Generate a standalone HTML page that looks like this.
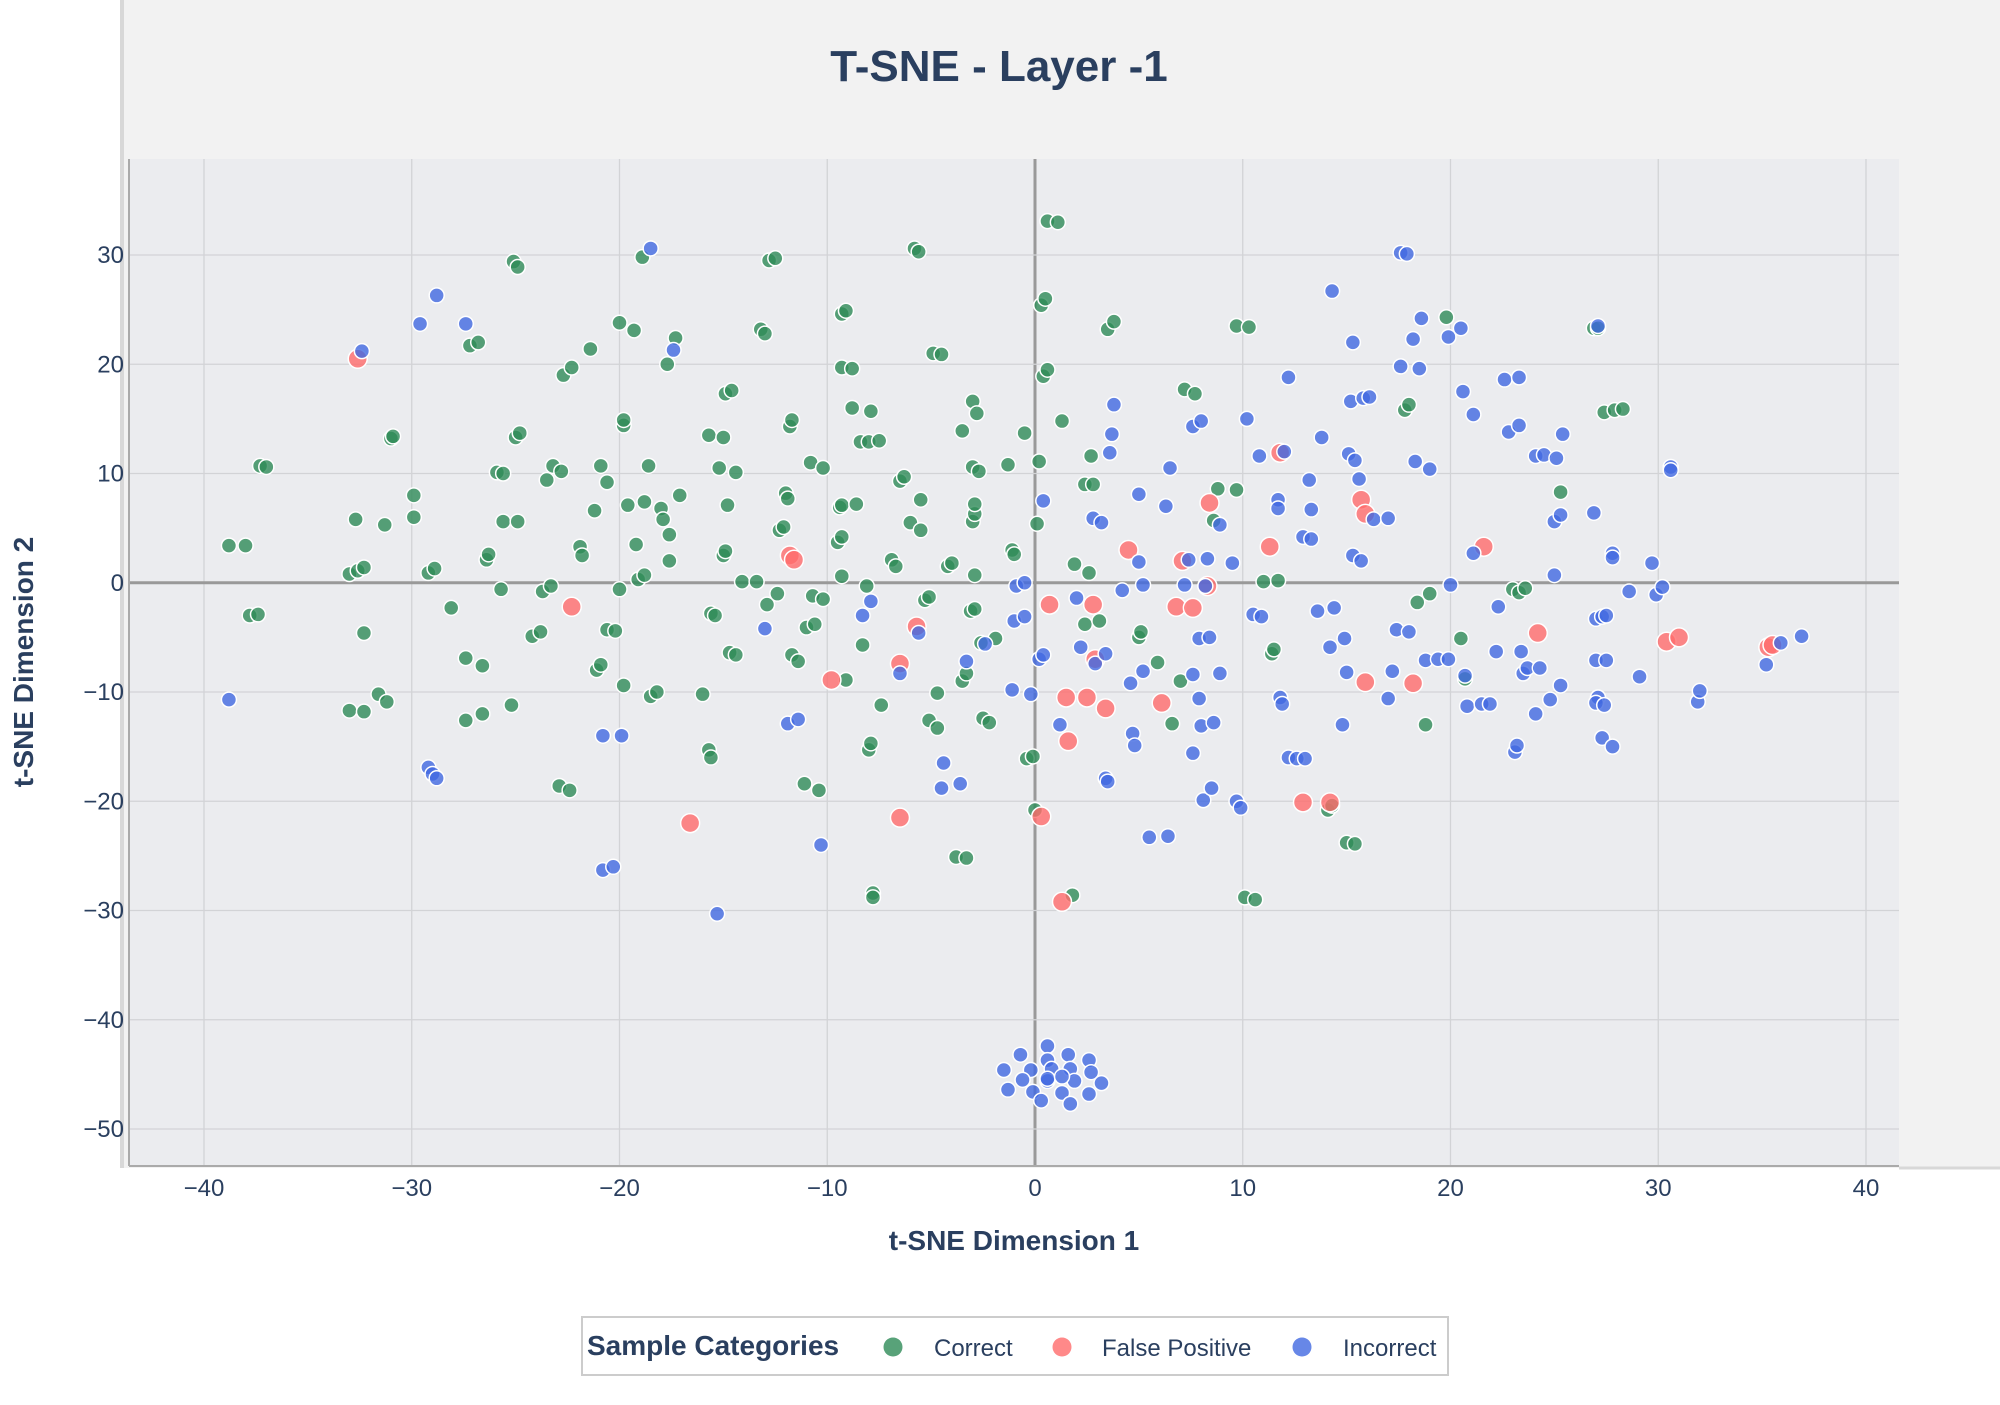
<!DOCTYPE html>
<html><head><meta charset="utf-8"><style>
html,body{margin:0;padding:0;background:#fff;}
svg text{font-family:"Liberation Sans",sans-serif;}
</style></head><body>
<svg id="chart" width="2000" height="1400" xmlns="http://www.w3.org/2000/svg">
<rect x="122" y="0" width="1878" height="1168" fill="#f2f2f2"/>
<line x1="122" y1="0" x2="122" y2="1168" stroke="#d8d8d8" stroke-width="4"/>
<line x1="1899" y1="1168" x2="2000" y2="1168" stroke="#d8d8d8" stroke-width="3"/>
<rect x="129" y="159" width="1770" height="1006" fill="#ebecef"/>
<g id="grid"></g>
<g id="marks"></g>
<g id="ticks"></g>
<line x1="129" y1="159" x2="129" y2="1166" stroke="#aaa" stroke-width="2"/>
<line x1="129" y1="1166" x2="1899" y2="1166" stroke="#aaa" stroke-width="2"/>
<text x="999" y="81" text-anchor="middle" font-size="44" font-weight="bold" fill="#2a3f5f">T-SNE - Layer -1</text>
<text x="1014" y="1250" text-anchor="middle" font-size="28" font-weight="bold" fill="#2a3f5f">t-SNE Dimension 1</text>
<text transform="translate(33,662) rotate(-90)" text-anchor="middle" font-size="28" font-weight="bold" fill="#2a3f5f">t-SNE Dimension 2</text>
<g>
<rect x="582" y="1317" width="866" height="58" fill="#fff" stroke="#ccc" stroke-width="2"/>
<text x="587" y="1355" font-size="28" font-weight="bold" fill="#2a3f5f">Sample Categories</text>
<g><circle cx="893" cy="1347" r="9.5" fill="#58a279"/><text x="934" y="1356" font-size="24" fill="#2a3f5f">Correct</text></g>
<g><circle cx="1062" cy="1347" r="9.5" fill="#ff8989"/><text x="1102" y="1356" font-size="24" fill="#2a3f5f">False Positive</text></g>
<g><circle cx="1302" cy="1347" r="9.5" fill="#6787e7"/><text x="1343" y="1356" font-size="24" fill="#2a3f5f">Incorrect</text></g>
</g>
</svg>
<script>
const xTicks=[-40,-30,-20,-10,0,10,20,30,40];
const yTicks=[30,20,10,0,-10,-20,-30,-40,-50];
const correctPts=[[-38.8,3.4],[-38,3.4],[-37.3,10.7],[-37,10.6],[-37.8,-3],[-37.4,-2.9],[-32.7,5.8],[-33,0.8],[-32.6,1.1],[-32.3,1.4],[-32.3,-4.6],[-33,-11.7],[-32.3,-11.8],[-31.6,-10.2],[-31.2,-10.9],[-31.3,5.3],[-31,13.2],[-30.9,13.4],[-29.9,8],[-29.9,6],[-29.2,0.9],[-28.9,1.3],[-28.1,-2.3],[-27.4,-6.9],[-27.4,-12.6],[-27.2,21.7],[-26.8,22],[-26.6,-7.6],[-26.6,-12],[-26.4,2.1],[-26.3,2.6],[-25.9,10.1],[-25.6,10],[-25.7,-0.6],[-25.6,5.6],[-25.2,-11.2],[-25,13.3],[-24.8,13.7],[-24.9,5.6],[-25.1,29.4],[-24.9,28.9],[-24.2,-4.9],[-23.8,-4.5],[-23.7,-0.8],[-23.3,-0.3],[-23.2,10.7],[-23.5,9.4],[-22.8,10.2],[-22.9,-18.6],[-22.4,-19],[-22.7,19],[-22.3,19.7],[-21.9,3.3],[-21.8,2.5],[-21.4,21.4],[-21.1,-8],[-20.9,-7.5],[-21.2,6.6],[-20.9,10.7],[-20.6,9.2],[-20.6,-4.3],[-20.2,-4.4],[-20,-0.6],[-20,23.8],[-19.8,14.4],[-19.8,14.9],[-19.6,7.1],[-19.8,-9.4],[-19.3,23.1],[-19.2,3.5],[-19.1,0.3],[-18.8,0.7],[-18.8,7.4],[-18.9,29.8],[-18.6,10.7],[-18.5,-10.4],[-18.2,-10],[-18,6.8],[-17.9,5.8],[-17.6,4.4],[-17.6,2],[-17.7,20],[-17.3,22.4],[-17.1,8],[-16,-10.2],[-15.7,13.5],[-15.6,-2.8],[-15.4,-3],[-15.7,-15.3],[-15.6,-16],[-15.2,10.5],[-15,13.3],[-15,2.5],[-14.9,2.9],[-14.8,7.1],[-14.9,17.3],[-14.6,17.6],[-14.7,-6.4],[-14.4,-6.6],[-14.4,10.1],[-14.1,0.1],[-13.4,0.1],[-13.2,23.2],[-13,22.8],[-12.9,-2],[-12.8,29.5],[-12.5,29.7],[-12.4,-1],[-12.3,4.8],[-12.1,5.1],[-12,8.2],[-11.9,7.7],[-11.8,14.3],[-11.7,14.9],[-11.7,-6.6],[-11.4,-7.2],[-11.1,-18.4],[-11,-4.1],[-10.8,11],[-10.7,-1.2],[-10.6,-3.8],[-10.4,-19],[-10.2,10.5],[-10.2,-1.5],[-9.5,3.7],[-9.3,4.2],[-9.4,6.9],[-9.3,7.1],[-9.3,0.6],[-9.3,24.6],[-9.1,24.9],[-9.3,19.7],[-8.8,19.6],[-9.1,-8.9],[-8.8,16],[-8.6,7.2],[-8.3,-5.7],[-8,-15.3],[-8.1,-0.3],[-8.4,12.9],[-8,12.9],[-7.9,15.7],[-7.9,-14.7],[-7.8,-28.4],[-7.8,-28.8],[-7.5,13],[-7.4,-11.2],[-6.9,2.1],[-6.7,1.5],[-6.5,9.3],[-6.3,9.7],[-6,5.5],[-5.8,30.6],[-5.6,30.3],[-5.5,7.6],[-5.5,4.8],[-5.3,-1.6],[-5.1,-1.3],[-5.1,-12.6],[-4.7,-13.3],[-4.7,-10.1],[-4.9,21],[-4.5,20.9],[-4.2,1.5],[-4,1.8],[-3.8,-25.1],[-3.3,-25.2],[-3.5,13.9],[-3.5,-9],[-3.3,-8.3],[-3.1,-2.6],[-2.9,-2.4],[-2.9,0.7],[-3,5.6],[-2.9,6.3],[-2.9,7.2],[-3,10.6],[-2.7,10.2],[-3,16.6],[-2.8,15.5],[-2.6,-5.5],[-2.5,-12.4],[-2.2,-12.8],[-1.9,-5.1],[-1.3,10.8],[-1.1,3],[-1,2.6],[-0.5,13.7],[-0.4,-16.1],[-0.1,-15.9],[0,-20.8],[0.1,5.4],[0.2,11.1],[0.3,25.4],[0.5,26],[0.4,18.9],[0.6,19.5],[0.6,33.1],[1.1,33],[1.3,14.8],[1.8,-28.6],[1.9,1.7],[2.4,-3.8],[2.4,9],[2.6,0.9],[2.7,11.6],[2.8,9],[3.1,-3.5],[3.5,23.2],[3.8,23.9],[5,-5],[5.1,-4.5],[5.9,-7.3],[6.6,-12.9],[7,-9],[7.2,17.7],[7.7,17.3],[8.6,5.7],[8.8,8.6],[9.7,23.5],[9.7,8.5],[10.1,-28.8],[10.3,23.4],[10.6,-29],[11,0.1],[11.4,-6.5],[11.5,-6.1],[11.7,0.2],[14.1,-20.8],[14.3,-20.4],[15,-23.8],[15.4,-23.9],[17.8,15.8],[18,16.3],[18.4,-1.8],[18.8,-13],[19,-1],[19.8,24.3],[20.5,-5.1],[20.7,-8.8],[23,-0.6],[23.3,-0.9],[23.6,-0.5],[25.3,8.3],[26.9,23.3],[27.1,23.3],[27.4,15.6],[27.9,15.8],[28.3,15.9]];
const falsePosPts=[[-32.6,20.5],[-22.3,-2.2],[-16.6,-22],[-11.8,2.5],[-11.6,2.1],[-9.8,-8.9],[-6.5,-7.4],[-5.7,-4],[-6.5,-21.5],[0.3,-21.4],[0.7,-2],[1.5,-10.5],[1.6,-14.5],[1.3,-29.2],[2.5,-10.5],[2.8,-2],[3.4,-11.5],[2.9,-7],[4.5,3],[6.1,-11],[6.8,-2.2],[7.1,2],[7.6,-2.3],[8.4,7.3],[8.3,-0.3],[11.3,3.3],[11.8,11.9],[12.9,-20.1],[14.2,-20.1],[15.7,7.6],[15.9,6.3],[15.9,-9.1],[18.2,-9.2],[21.6,3.3],[24.2,-4.6],[30.4,-5.4],[31,-5],[35.3,-5.9],[35.5,-5.7]];
const incorrectPts=[[-38.8,-10.7],[-32.4,21.2],[-29.6,23.7],[-28.8,26.3],[-27.4,23.7],[-29.2,-16.9],[-29,-17.5],[-28.8,-17.9],[-20.8,-26.3],[-20.3,-26],[-20.8,-14],[-19.9,-14],[-18.5,30.6],[-17.4,21.3],[-15.3,-30.3],[-13,-4.2],[-11.9,-12.9],[-11.4,-12.5],[-10.3,-24],[-8.3,-3],[-7.9,-1.7],[-6.5,-8.3],[-5.6,-4.6],[-4.4,-16.5],[-4.5,-18.8],[-3.6,-18.4],[-3.3,-7.2],[-2.4,-5.6],[-1.1,-9.8],[-1,-3.5],[-0.9,-0.3],[-0.5,0],[-0.5,-3.1],[-0.2,-10.2],[0.2,-7],[0.4,-6.6],[0.4,7.5],[1.2,-13],[2,-1.4],[2.2,-5.9],[2.8,5.9],[2.9,-7.4],[3.2,5.5],[3.4,-17.9],[3.5,-18.2],[3.6,11.9],[3.7,13.6],[3.8,16.3],[3.4,-6.5],[4.2,-0.7],[4.7,-13.8],[4.8,-14.9],[4.6,-9.2],[5,8.1],[5,1.9],[5.2,-0.2],[5.2,-8.1],[5.5,-23.3],[6.3,7],[6.5,10.5],[6.4,-23.2],[7.2,-0.2],[7.4,2.1],[7.6,-15.6],[7.6,-8.4],[7.6,14.3],[7.9,-5.1],[8,-13.1],[7.9,-10.6],[8,14.8],[8.1,-19.9],[8.2,-0.3],[8.3,2.2],[8.4,-5],[8.5,-18.8],[8.6,-12.8],[8.9,-8.3],[8.9,5.3],[9.5,1.8],[9.7,-20],[9.9,-20.6],[10.2,15],[10.5,-2.9],[10.8,11.6],[10.9,-3.1],[11.7,7.6],[11.7,6.8],[11.8,-10.5],[11.9,-11.1],[12,12],[12.2,18.8],[12.2,-16],[12.6,-16.1],[13,-16.1],[12.9,4.2],[13.2,9.4],[13.3,4],[13.3,6.7],[13.6,-2.6],[13.8,13.3],[14.2,-5.9],[14.3,26.7],[14.4,-2.3],[14.8,-13],[14.9,-5.1],[15,-8.2],[15.1,11.8],[15.2,16.6],[15.3,22],[15.3,2.5],[15.4,11.2],[15.6,9.5],[15.7,2],[15.8,16.9],[16.1,17],[16.3,5.8],[17,5.9],[17,-10.6],[17.2,-8.1],[17.4,-4.3],[17.6,19.8],[17.6,30.2],[17.9,30.1],[18,-4.5],[18.2,22.3],[18.3,11.1],[18.5,19.6],[18.6,24.2],[18.8,-7.1],[19,10.4],[19.4,-7],[19.9,22.5],[19.9,-7],[20,-0.2],[20.5,23.3],[20.6,17.5],[20.8,-11.3],[20.7,-8.5],[21.1,15.4],[21.1,2.7],[21.5,-11.1],[21.9,-11.1],[22.2,-6.3],[22.3,-2.2],[22.6,18.6],[22.8,13.8],[23.1,-15.5],[23.2,-14.9],[23.3,18.8],[23.3,14.4],[23.4,-6.3],[23.5,-8.3],[23.7,-7.8],[24.1,-12],[24.1,11.6],[24.3,-7.8],[24.5,11.7],[24.8,-10.7],[25,5.6],[25.1,11.4],[25,0.7],[25.3,6.2],[25.4,13.6],[25.3,-9.4],[26.9,6.4],[27,-7.1],[27,-3.3],[27.1,-10.5],[27,-11],[27.1,23.5],[27.3,-3.1],[27.3,-14.2],[27.4,-11.2],[27.5,-7.1],[27.5,-3],[27.8,-15],[27.8,2.7],[27.8,2.3],[28.6,-0.8],[29.1,-8.6],[29.7,1.8],[29.9,-1.1],[30.2,-0.4],[30.6,10.6],[30.6,10.3],[31.9,-10.9],[32,-9.9],[35.2,-7.5],[35.9,-5.5],[36.9,-4.9],[-0.7,-43.2],[0.6,-42.4],[1.6,-43.2],[2.6,-43.7],[0.6,-43.7],[-1.5,-44.6],[-0.2,-44.6],[0.8,-44.5],[1.7,-44.5],[2.7,-44.8],[-0.6,-45.5],[0.6,-45.6],[1.9,-45.6],[3.2,-45.8],[-1.3,-46.4],[-0.1,-46.6],[1.3,-46.7],[2.6,-46.8],[0.3,-47.4],[1.7,-47.7],[0.6,-45.4],[1.3,-45.2]];
const NS="http://www.w3.org/2000/svg";
const X0=129,X1=1899,Y0=159,Y1=1165;
function sx(v){return 204+(v+40)*(1866-204)/80;}
function sy(v){return 255+(30-v)*(1129-255)/80;}
function mk(tag,attrs,parent){const e=document.createElementNS(NS,tag);for(const k in attrs)e.setAttribute(k,attrs[k]);parent.appendChild(e);return e;}
const grid=document.getElementById('grid'),ticks=document.getElementById('ticks'),marks=document.getElementById('marks');
xTicks.forEach(t=>{
  const l=mk('line',{x1:sx(t),x2:sx(t),y1:Y0,y2:Y1,stroke:t===0?'#999':'#d2d3d6','stroke-width':t===0?3:1.3},grid);
  
  
  const tx=mk('text',{x:sx(t),y:1196,'text-anchor':'middle','font-size':24,fill:'#2a3f5f'},ticks);
  tx.textContent=t<0?'\u2212'+Math.abs(t):String(t);
  
  
});
yTicks.forEach(t=>{
  const l=mk('line',{x1:X0,x2:X1,y1:sy(t),y2:sy(t),stroke:t===0?'#999':'#d2d3d6','stroke-width':t===0?3:1.3},grid);
  
  
  const tx=mk('text',{x:124,y:sy(t)+8,'text-anchor':'end','font-size':24,fill:'#2a3f5f'},ticks);
  tx.textContent=t<0?'\u2212'+Math.abs(t):String(t);
  
  
});
function series(pts,color,name,r){
  pts.forEach(p=>{
    const c=mk('circle',{cx:sx(p[0]),cy:sy(p[1]),r:r,fill:color,'fill-opacity':0.8,stroke:'#fff','stroke-width':1.5},marks);
    
    
  });
}
series(correctPts,'#2e8b57','point-correct',7.5);
series(falsePosPts,'#ff6b6b','point-false-positive',9.5);
series(incorrectPts,'#4169e1','point-incorrect',7.5);
</script>
</body></html>
